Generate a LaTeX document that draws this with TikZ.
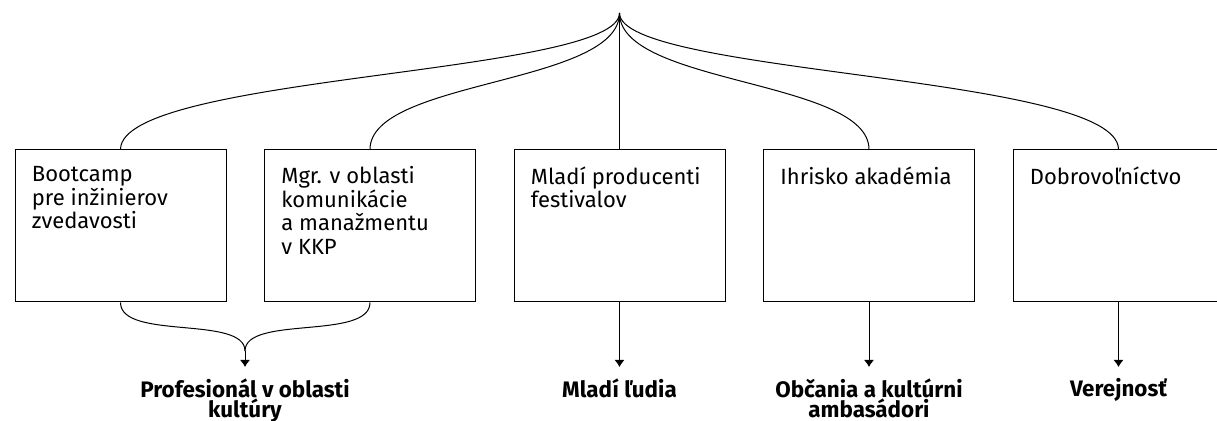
\documentclass[tikz,border=0pt]{standalone}
\usepackage{fontspec}
\setmainfont{Fira Sans}
\usetikzlibrary{arrows.meta}
\tikzset{
  kasten/.style={draw=black, line width=0.5pt, minimum width=105.5pt, minimum height=76pt, inner sep=0pt},
  kastentext/.style={anchor=north west, align=left, inner sep=0pt, font=\fontsize{11}{11.75}\selectfont, execute at begin node=\strut},
  ziel/.style={anchor=north, align=center, inner sep=0pt, font=\fontsize{11.2}{10}\selectfont\bfseries, execute at begin node=\strut},
  pfeil/.style={-{Latex[length=3.5pt,width=5pt]}, line width=0.5pt},
  linie/.style={line width=0.5pt}
}
\begin{document}
\begin{tikzpicture}[x=0.5pt, y=-0.5pt]
    \useasboundingbox (0,0) rectangle (1217,421);
    \coordinate (spitze) at (619.5,13);
    \node[kasten] (k1) at (120.5,226) {};
    \node[kasten] (k2) at (370,226) {};
    \node[kasten] (k3) at (619.5,226) {};
    \node[kasten] (k4) at (869,226) {};
    \node[kasten] (k5) at (1118.5,226) {};
    \node[kastentext] (t1) at ([xshift=8.5pt,yshift=-8.3pt]k1.north west) {Bootcamp\\pre inžinierov\\zvedavosti};
    \node[kastentext] (t2) at ([xshift=8.5pt,yshift=-8.3pt]k2.north west) {Mgr. v oblasti\\komunikácie\\a manažmentu\\v KKP};
    \node[kastentext] (t3) at ([xshift=8.5pt,yshift=-8.3pt]k3.north west) {Mladí producenti\\festivalov};
    \node[kastentext] (t4) at ([xshift=8.5pt,yshift=-8.3pt]k4.north west) {Ihrisko akadémia};
    \node[kastentext] (t5) at ([xshift=8.5pt,yshift=-8.3pt]k5.north west) {Dobrovoľníctvo};
    \draw[linie] (k1.north) .. controls +(0,-75) and +(0,62) .. (spitze);
    \draw[linie] (k2.north) .. controls +(0,-70) and +(0,72) .. (spitze);
    \draw[linie] (k3.north) -- (spitze);
    \draw[linie] (k4.north) .. controls +(0,-70) and +(0,72) .. (spitze);
    \draw[linie] (k5.north) .. controls +(0,-75) and +(0,62) .. (spitze);
    \coordinate (treff) at (245,351);
    \coordinate (z1) at (245,367);
    \coordinate (z3) at (619.5,367);
    \coordinate (z4) at (869,367);
    \coordinate (z5) at (1118.5,367);
    \draw[linie] (k1.south) .. controls +(0,38) and +(0,-36) .. (treff);
    \draw[linie] (k2.south) .. controls +(0,38) and +(0,-36) .. (treff);
    \draw[pfeil] (treff) -- (z1);
    \draw[pfeil] (k3.south) -- (z3);
    \draw[pfeil] (k4.south) -- (z4);
    \draw[pfeil] (k5.south) -- (z5);
    \node[ziel] (l1) at (245,378) {Profesionál v oblasti\\kultúry};
    \node[ziel] (l3) at (619.5,378) {Mladí ľudia};
    \node[ziel] (l4) at (869,378) {Občania a kultúrni\\ambasádori};
    \node[ziel] (l5) at (1118.5,378) {Verejnosť};
\end{tikzpicture}
\end{document}
